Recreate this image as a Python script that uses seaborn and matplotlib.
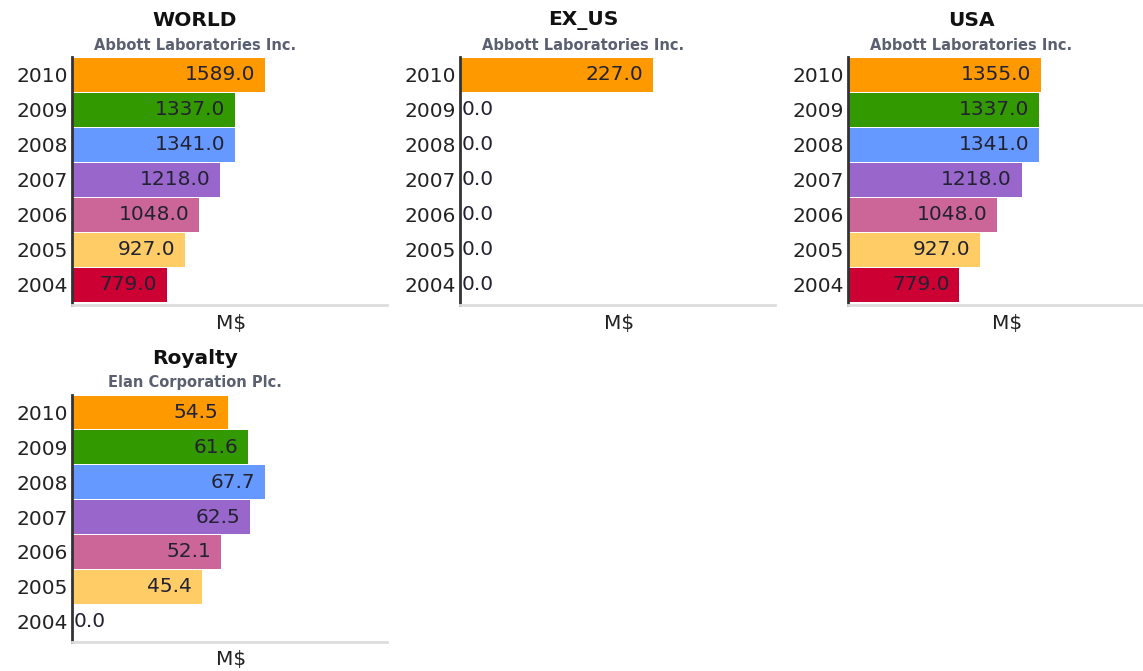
import pandas as pd
import matplotlib
matplotlib.use("Agg")
import matplotlib.pyplot as plt
import seaborn as sns

# data
years = ['2010', '2009', '2008', '2007', '2006', '2005', '2004']
world = [1589.0, 1337.0, 1341.0, 1218.0, 1048.0, 927.0, 779.0]
ex_us = [227.0, 0.0, 0.0, 0.0, 0.0, 0.0, 0.0]
usa = [1355.0, 1337.0, 1341.0, 1218.0, 1048.0, 927.0, 779.0]
royalty = [54.5, 61.6, 67.7, 62.5, 52.1, 45.4, 0.0]

titles = ['WORLD', 'EX_US', 'USA', 'Royalty']
subtitles = ['Abbott Laboratories Inc.', 'Abbott Laboratories Inc.',
             'Abbott Laboratories Inc.', 'Elan Corporation Plc.']
series = [world, ex_us, usa, royalty]

year_colors = {'2010': '#FF9900', '2009': '#339900', '2008': '#6699FF',
               '2007': '#9966CC', '2006': '#CC6699', '2005': '#FFCC66',
               '2004': '#CC0033'}

sns.set_style("white")
plt.rcParams['font.family'] = ['DejaVu Sans']

W, H = 1143, 671
fig = plt.figure(figsize=(W / 100, H / 100), dpi=100)

# panel grid: (panel x offset, axes top, axes bottom) in pixels
col_off = [0, 388, 776]
row_top = [57, 395]
row_bot = [305, 642]

for k, (title, sub, vals) in enumerate(zip(titles, subtitles, series)):
    r, c = divmod(k, 3)
    x0 = col_off[c]
    left = x0 + 72
    ax = fig.add_axes([left / W, 1 - row_bot[r] / H, 315 / W,
                       (row_bot[r] - row_top[r]) / H])
    df = pd.DataFrame({'year': years, 'value': vals})
    sns.barplot(data=df, x='value', y='year', hue='year', order=years,
                palette=year_colors, legend=False, width=0.97, orient='h',
                saturation=1, linewidth=0, ax=ax)
    ax.set_xlim(0, max(vals) * 1.63)
    ax.set_ylim(6.58, -0.5)
    ax.set_xticks([])
    ax.set_xlabel('')
    ax.set_ylabel('')
    ax.tick_params(axis='y', length=0, pad=3, labelsize=14.5, labelcolor='#222222')
    for s in ['top', 'right']:
        ax.spines[s].set_visible(False)
    ax.spines['left'].set_color('#333333')
    ax.spines['left'].set_linewidth(2)
    ax.spines['bottom'].set_color('#DDDDDD')
    ax.spines['bottom'].set_linewidth(2)

    for i, v in enumerate(vals):
        if v > 0:
            ax.annotate(f'{v:.1f}', (v, i), xytext=(-7, 0),
                        textcoords='offset points', ha='right', va='center',
                        fontsize=14.5, color='#222233')
        else:
            ax.annotate(f'{v:.1f}', (0, i), xytext=(1.5, 0),
                        textcoords='offset points', ha='left', va='center',
                        fontsize=14.5, color='#222233')

    # titles over the whole panel, unit label under the axis
    fig.text((x0 + 195) / W, 1 - (row_top[r] - 37) / H, title,
             ha='center', va='center', fontsize=14.5, fontweight='bold',
             color='#111111')
    fig.text((x0 + 195) / W, 1 - (row_top[r] - 12) / H, sub,
             ha='center', va='center', fontsize=10.5, fontweight='bold',
             color='#5a6070')
    fig.text((left + 159) / W, 1 - (row_bot[r] + 18) / H, 'M$',
             ha='center', va='center', fontsize=14.5, color='#222222')

fig.savefig('out.png', dpi=100)
